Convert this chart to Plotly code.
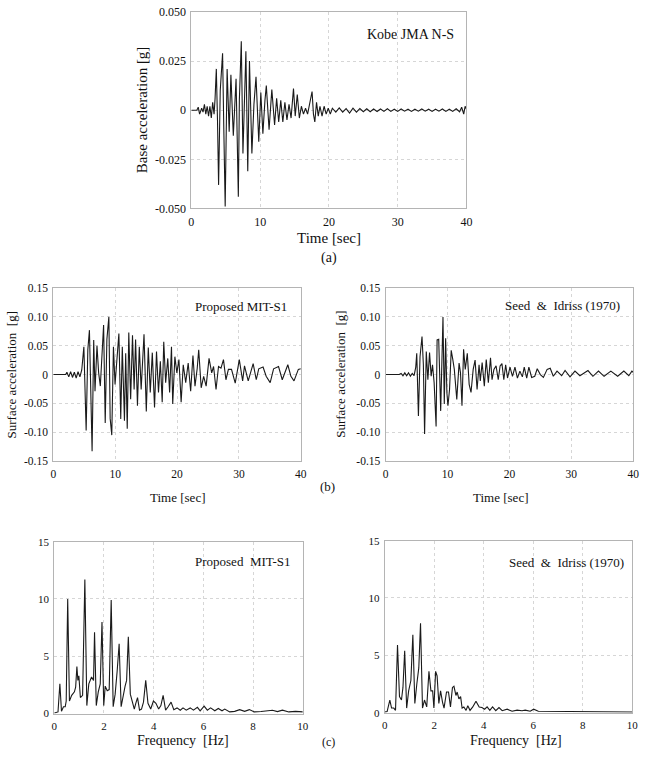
import plotly.graph_objects as go

W, H = 649, 757

# ---------------- (a) Kobe JMA N-S base acceleration ----------------
a_time = [0, 0.8, 1.0, 1.2, 1.5, 1.7, 1.9, 2.1, 2.3, 2.5, 2.7, 2.9, 3.1, 3.3, 3.45, 3.63, 3.8, 3.96,
          4.2, 4.54, 4.72, 4.92, 5.2, 5.5, 5.75, 6.1, 6.5, 6.83, 6.98, 7.26, 7.5, 7.93, 8.2, 8.45,
          8.8, 9.1, 9.4, 9.8, 10.1, 10.4, 10.7, 10.9, 11.3, 11.7, 12.1, 12.4, 12.7, 13.0, 13.3,
          13.6, 13.9, 14.2, 14.5, 14.85, 15.1, 15.4, 15.7, 16.0, 16.3, 16.6, 16.9, 17.2, 17.55,
          17.75, 17.95, 18.2, 18.45, 18.7, 19.0, 19.3, 19.6, 19.9, 20.2, 20.5, 21.0, 21.5, 22.0,
          22.5, 23.0, 23.5, 24.0, 24.5, 25.0, 25.5, 26.0, 26.5, 27.0, 27.5, 28.0, 28.5, 29.0,
          29.5, 30.0, 30.5, 31.0, 31.5, 32.0, 32.5, 33.0, 33.5, 34.0, 34.5, 35.0, 35.5, 36.0,
          36.5, 37.0, 37.5, 38.0, 38.5, 39.0, 39.3, 39.6, 39.8, 40.0]
a_acc = [0, 0, 0.0015, -0.002, 0.001, -0.001, 0.003, -0.002, 0.002, -0.003, 0.002, -0.004, 0.004,
         -0.002, 0.006, 0.021, -0.005, -0.038, 0.010, 0.029, -0.010, -0.049, 0.021, -0.011, 0.018,
         -0.013, 0.016, -0.044, 0.005, 0.035, -0.022, 0.030, -0.031, 0.025, -0.022, 0.003, 0.017,
         -0.016, 0.009, -0.012, 0.005, 0.0125, -0.010, 0.0105, -0.0075, 0.006, -0.006, 0.005,
         -0.006, 0.004, -0.005, 0.003, -0.004, 0.011, -0.003, 0.008, -0.004, 0.002, -0.002, 0.001,
         -0.002, 0.003, 0.0095, -0.002, -0.006, 0.004, -0.003, 0.002, -0.003, 0.002, -0.002, 0.001,
         -0.002, 0.001, -0.001, 0.0012, -0.001, 0.0008, -0.0015, 0.001, -0.001, 0.0008, -0.0008,
         0.0007, -0.0008, 0.0006, -0.0007, 0.0006, -0.0006, 0.0007, -0.0006, 0.0005, -0.0006,
         0.0006, -0.0005, 0.0005, -0.0006, 0.0005, -0.0005, 0.0006, -0.0005, 0.0005, -0.0006,
         0.0005, -0.0005, 0.0006, -0.0006, 0.0005, -0.0006, 0.0007, -0.0008, 0.0015, -0.002,
         0.002, 0.0005]

# ---------------- (b) surface acceleration ----------------
mit_time = [0, 2.0, 2.2, 2.5, 2.8, 3.1, 3.4, 3.7, 4.0, 4.3, 4.6, 4.94, 5.31, 5.58, 5.84, 6.27, 6.53,
            6.74, 7.06, 7.33, 7.6, 8.13, 8.39, 8.66, 8.98, 9.19, 9.45, 9.72, 9.98, 10.3, 10.6, 10.9,
            11.15, 11.5, 11.7, 11.95, 12.2, 12.5, 12.8, 13.06, 13.3, 13.6, 13.9, 14.2, 14.66, 15.03,
            15.35, 15.67, 16.0, 16.36, 16.68, 17.0, 17.3, 17.6, 17.85, 18.16, 18.5, 18.8, 19.1,
            19.3, 19.65, 19.97, 20.3, 20.66, 21.0, 21.4, 21.8, 22.2, 22.57, 22.9, 23.26, 23.5,
            23.9, 24.3, 24.7, 25.17, 25.6, 25.9, 26.3, 26.7, 27.1, 27.5, 27.9, 28.3, 28.8, 29.4,
            30.06, 30.6, 30.9, 31.5, 32.3, 32.8, 33.2, 33.9, 34.4, 35.05, 35.6, 36.4, 37.0, 37.9,
            38.4, 38.9, 39.6, 40.0]
mit_acc = [0, 0, 0.004, -0.004, 0.005, -0.005, 0.004, -0.006, 0.005, -0.004, 0.008, 0.048, -0.097,
           0.043, 0.077, -0.133, 0.060, -0.029, 0.050, 0.003, -0.020, 0.086, -0.084, 0.061, 0.100,
           -0.076, -0.105, 0.048, -0.017, 0.034, 0.071, -0.077, 0.048, -0.080, 0.037, -0.094, 0.073,
           -0.043, 0.068, -0.026, 0.061, -0.054, 0.048, -0.026, 0.070, -0.064, 0.047, -0.031, 0.038,
           -0.057, 0.040, -0.031, 0.023, -0.048, 0.057, -0.014, 0.028, -0.031, 0.048, -0.051, 0.031,
           0.003, 0.026, -0.048, 0.017, -0.014, 0.020, -0.029, 0.033, -0.020, 0.011, 0.043, -0.023,
           -0.003, -0.020, 0.028, 0.003, 0.014, -0.026, 0.014, 0.011, 0.026, -0.009, 0.009, 0.009,
           -0.015, 0.026, -0.011, 0.015, -0.011, 0.019, -0.009, 0.010, 0.013, -0.003, -0.014, 0.010,
           0.014, -0.009, 0.017, -0.003, -0.011, 0.009, 0.010]

si_time = [0, 2.2, 2.5, 2.8, 3.1, 3.4, 3.7, 4.0, 4.3, 4.6, 4.87, 5.03, 5.3, 5.56, 5.88, 6.1, 6.3,
           6.57, 6.83, 7.1, 7.36, 7.58, 7.84, 8.16, 8.32, 8.58, 8.9, 9.27, 9.48, 9.7, 9.9, 10.07,
           10.33, 10.6, 10.86, 11.1, 11.5, 11.87, 12.1, 12.34, 12.6, 12.87, 13.2, 13.5, 13.8, 14.15,
           14.46, 14.78, 15.1, 15.3, 15.6, 15.95, 16.26, 16.6, 16.95, 17.2, 17.5, 17.85, 18.2, 18.5,
           18.8, 19.1, 19.4, 19.7, 20.1, 20.5, 20.9, 21.3, 21.7, 22.1, 22.4, 22.8, 23.15, 23.6,
           24.1, 24.5, 25.0, 25.5, 26.1, 26.6, 27.1, 27.7, 28.45, 29.0, 29.8, 30.6, 31.4, 32.7,
           33.5, 34.4, 35.3, 36.4, 37.5, 38.5, 39.3, 39.8, 40.0]
si_acc = [0, 0, 0.002, -0.002, 0.003, -0.002, 0.003, -0.003, 0.002, -0.002, 0.013, 0.037, -0.072,
          0.031, 0.066, 0.017, -0.103, 0.040, -0.009, 0.038, -0.003, 0.017, -0.014, -0.090, 0.060,
          0.061, -0.063, 0.100, -0.051, 0.063, -0.031, -0.054, -0.026, 0.042, 0.026, 0.009, -0.043,
          0.020, 0.003, -0.054, 0.044, 0.009, 0.037, -0.017, -0.031, 0.009, 0.025, -0.026, 0.017,
          -0.011, 0.021, -0.020, 0.026, -0.014, 0.029, -0.009, 0.009, 0.015, -0.009, 0.015, 0.019,
          -0.009, 0.017, -0.006, 0.013, -0.003, 0.013, -0.006, 0.006, -0.004, 0.013, -0.006, 0.013,
          -0.005, -0.003, 0.010, 0.0, -0.005, 0.009, 0.011, -0.003, 0.006, -0.002, 0.007, -0.004,
          0.006, -0.002, 0.007, -0.003, 0.006, -0.003, 0.006, -0.003, 0.006, -0.002, 0.006, 0.004]

# ---------------- (c) Fourier amplitude ----------------
mit_freq = [0, 0.15, 0.225, 0.29, 0.37, 0.44, 0.48, 0.54, 0.61, 0.7, 0.81, 0.86, 0.91, 0.95, 0.99,
            1.05, 1.14, 1.23, 1.31, 1.39, 1.5, 1.58, 1.62, 1.69, 1.77, 1.85, 1.92, 1.99, 2.05, 2.13,
            2.21, 2.29, 2.37, 2.45, 2.53, 2.61, 2.69, 2.77, 2.85, 2.91, 2.98, 3.06, 3.14, 3.22,
            3.28, 3.35, 3.43, 3.51, 3.59, 3.68, 3.77, 3.88, 3.99, 4.09, 4.2, 4.29, 4.38, 4.48,
            4.58, 4.7, 4.81, 4.94, 5.07, 5.18, 5.31, 5.47, 5.6, 5.76, 5.87, 6.03, 6.16, 6.29, 6.46,
            6.6, 6.75, 6.86, 7.06, 7.26, 7.46, 7.66, 7.85, 8.05, 8.32, 8.58, 8.78, 8.98, 9.18,
            9.44, 9.71, 10.0]
mit_amp = [0.05, 0.15, 2.6, 0.2, 0.6, 0.6, 1.1, 10.0, 1.1, 1.6, 1.9, 2.3, 4.1, 2.9, 3.3, 1.4, 1.6,
           11.7, 0.7, 2.6, 3.2, 2.9, 7.1, 0.7, 1.9, 2.6, 8.0, 0.7, 2.4, 2.0, 2.1, 9.9, 0.6, 1.7,
           3.7, 6.1, 0.6, 1.7, 2.4, 2.9, 6.7, 1.7, 1.0, 0.4, 0.9, 1.4, 0.3, 0.4, 1.0, 2.9, 0.9,
           0.4, 1.1, 0.9, 0.4, 0.7, 1.6, 0.3, 0.6, 1.0, 0.35, 0.5, 0.3, 0.5, 0.3, 0.5, 0.3, 0.55,
           0.25, 0.65, 0.3, 0.5, 0.25, 0.45, 0.25, 0.4, 0.15, 0.2, 0.35, 0.2, 0.35, 0.15, 0.18,
           0.22, 0.3, 0.18, 0.3, 0.15, 0.2, 0.15]

si_freq = [0, 0.1, 0.21, 0.28, 0.37, 0.44, 0.52, 0.6, 0.68, 0.74, 0.81, 0.89, 0.97, 1.06, 1.14,
           1.22, 1.3, 1.38, 1.45, 1.53, 1.61, 1.7, 1.79, 1.87, 1.94, 1.99, 2.06, 2.12, 2.19, 2.26,
           2.34, 2.4, 2.5, 2.58, 2.66, 2.74, 2.8, 2.88, 2.93, 3.0, 3.07, 3.13, 3.2, 3.29, 3.36,
           3.45, 3.56, 3.69, 3.82, 3.93, 4.04, 4.14, 4.25, 4.36, 4.49, 4.62, 4.75, 4.95, 5.15,
           5.35, 5.55, 5.68, 5.88, 6.02, 6.21, 6.48, 6.75, 7.01, 7.41, 7.81, 8.2, 8.6, 9.14, 9.67,
           10.0]
si_amp = [0.05, 0.1, 1.1, 0.4, 0.4, 0.2, 5.9, 1.4, 1.1, 2.2, 5.4, 0.4, 1.9, 2.8, 6.8, 0.8, 2.5,
          3.9, 7.8, 0.4, 1.1, 0.5, 3.6, 1.9, 1.9, 0.4, 3.6, 3.2, 0.8, 1.9, 0.9, 0.4, 1.8, 1.8,
          0.5, 2.2, 2.3, 1.5, 1.8, 1.2, 1.4, 0.4, 0.5, 0.2, 0.6, 0.2, 0.5, 1.0, 0.5, 0.45, 0.3,
          0.5, 0.2, 0.5, 0.17, 0.45, 0.17, 0.3, 0.12, 0.22, 0.17, 0.22, 0.12, 0.3, 0.12, 0.12,
          0.06, 0.09, 0.06, 0.09, 0.06, 0.09, 0.06, 0.06, 0.06]

# tick definitions
a_yticks = [-0.05, -0.025, 0, 0.025, 0.05]
a_ytext = ["-0.050", "-0.025", "0", "0.025", "0.050"]
b_yticks = [-0.15, -0.10, -0.05, 0, 0.05, 0.10, 0.15]
b_ytext = ["-0.15", "-0.10", "-0.05", "0", "0.05", "0.10", "0.15"]
time_ticks = [0, 10, 20, 30, 40]
c_yticks = [0, 5, 10, 15]
c_xticks = [0, 2, 4, 6, 8, 10]

SERIF = "Liberation Serif"
LINE = dict(color="#1a1a1a", width=1.1)


def px_x(p):
    return p / W


def px_y(p):
    return 1 - p / H


fig = go.Figure()
fig.add_trace(go.Scatter(x=a_time, y=a_acc, mode="lines", line=LINE, xaxis="x", yaxis="y"))
fig.add_trace(go.Scatter(x=mit_time, y=mit_acc, mode="lines", line=LINE, xaxis="x2", yaxis="y2"))
fig.add_trace(go.Scatter(x=si_time, y=si_acc, mode="lines", line=LINE, xaxis="x3", yaxis="y3"))
fig.add_trace(go.Scatter(x=mit_freq, y=mit_amp, mode="lines", line=LINE, xaxis="x4", yaxis="y4"))
fig.add_trace(go.Scatter(x=si_freq, y=si_amp, mode="lines", line=LINE, xaxis="x5", yaxis="y5"))


def axis(domain, rng, tickvals, ticktext, anchor, size):
    return dict(domain=domain, range=rng, tickvals=tickvals, ticktext=ticktext, anchor=anchor,
                showgrid=True, gridcolor="#d6d6d6", griddash="dot", gridwidth=1,
                showline=True, linecolor="#b4b4b4", linewidth=1, mirror=True,
                ticks="", zeroline=False, ticklabelstandoff=2,
                tickfont=dict(family=SERIF, size=size, color="#111"),
                fixedrange=True)


layout = dict(width=W, height=H, margin=dict(l=0, r=0, t=0, b=0), showlegend=False,
              paper_bgcolor="white", plot_bgcolor="white",
              font=dict(family=SERIF, color="#111"))

# (a)
layout["xaxis"] = axis([px_x(191), px_x(470)], [0, 40], time_ticks, [str(v) for v in time_ticks], "y", 12)
layout["yaxis"] = axis([px_y(206), px_y(6)], [-0.05, 0.05], a_yticks, a_ytext, "x", 12)
# (b) left / right
layout["xaxis2"] = axis([px_x(51), px_x(302)], [0, 40], time_ticks, [str(v) for v in time_ticks], "y2", 11.5)
layout["yaxis2"] = axis([px_y(463), px_y(287)], [-0.15, 0.15], b_yticks, b_ytext, "x2", 11.5)
layout["xaxis3"] = axis([px_x(388), px_x(639)], [0, 40], time_ticks, [str(v) for v in time_ticks], "y3", 11.5)
layout["yaxis3"] = axis([px_y(463), px_y(287)], [-0.15, 0.15], b_yticks, b_ytext, "x3", 11.5)
# (c) left / right
layout["xaxis4"] = axis([px_x(52), px_x(304)], [0, 10], c_xticks, [str(v) for v in c_xticks], "y4", 11)
layout["yaxis4"] = axis([px_y(720), px_y(545)], [0, 15], c_yticks, [str(v) for v in c_yticks], "x4", 11)
layout["xaxis5"] = axis([px_x(387), px_x(638)], [0, 10], c_xticks, [str(v) for v in c_xticks], "y5", 11)
layout["yaxis5"] = axis([px_y(719), px_y(544)], [0, 15], c_yticks, [str(v) for v in c_yticks], "x5", 11)

fig.update_layout(**layout)


def note(text, x, y, size, xanchor="center", angle=0):
    fig.add_annotation(text=text, x=px_x(x), y=px_y(y), xref="paper", yref="paper",
                       xanchor=xanchor, yanchor="middle", showarrow=False, textangle=angle,
                       font=dict(family=SERIF, size=size, color="#111"))


NB = "\u00a0"
# (a) labels
note("Kobe JMA N-S", 459, 29, 14, "right")
note("Base acceleration [g]", 141, 106, 15, angle=-90)
note("Time [sec]", 331, 236, 15)
note("(a)", 331, 256, 14)
# (b) labels
note("Proposed MIT-S1", 290, 306, 13, "right")
note("Seed" + NB + NB + "&" + NB + NB + "Idriss (1970)", 628, 305, 13, "right")
note("Surface acceleration" + NB + NB + "[g]", 9, 375, 13, angle=-90)
note("Surface acceleration" + NB + NB + "[g]", 342, 375, 13, angle=-90)
note("Time [sec]", 177, 500, 13)
note("Time [sec]", 505, 500, 13)
note("(b)", 329, 489, 13)
# (c) labels
note("Proposed" + NB + NB + "MIT-S1", 294, 565, 13, "right")
note("Seed" + NB + NB + "&" + NB + NB + "Idriss (1970)", 632, 566, 13, "right")
note("Frequency" + NB + NB + "[Hz]", 183, 747, 14)
note("Frequency" + NB + NB + "[Hz]", 520, 747, 14)
note("(c)", 330, 749, 12)

fig.write_html("out.html")
